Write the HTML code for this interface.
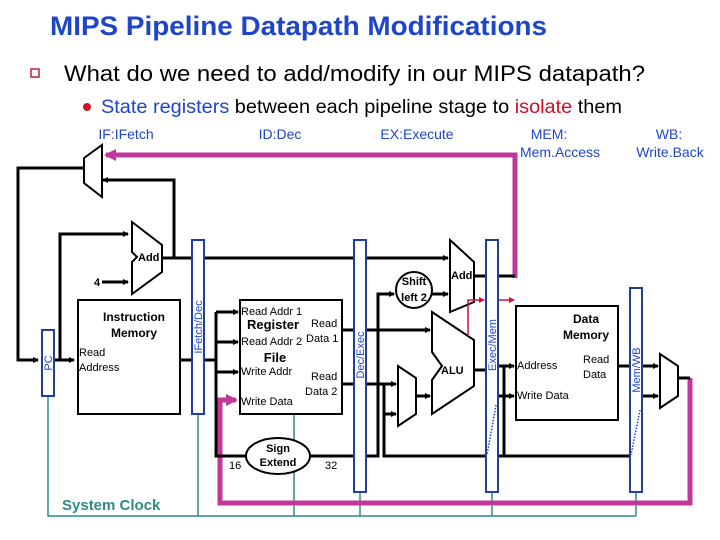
<!DOCTYPE html>
<html><head><meta charset="utf-8"><style>
html,body{margin:0;padding:0;background:#fff}
svg{display:block;font-family:"Liberation Sans",Arial,sans-serif}
</style></head><body>
<svg width="720" height="540" viewBox="0 0 720 540" xmlns="http://www.w3.org/2000/svg">
<defs>
<marker id="ah" markerWidth="6" markerHeight="6" refX="5" refY="3" orient="auto" markerUnits="userSpaceOnUse"><path d="M0,0 L6,3 L0,6 z" fill="#000"/></marker>
<marker id="ar" markerWidth="6" markerHeight="6" refX="5" refY="3" orient="auto" markerUnits="userSpaceOnUse"><path d="M0,0 L6,3 L0,6 z" fill="#d0103a"/></marker>
<marker id="ap" markerWidth="12" markerHeight="12" refX="10" refY="6" orient="auto" markerUnits="userSpaceOnUse"><path d="M0,0 L12,6 L0,12 z" fill="#c0399a"/></marker>
</defs>
<text x="50" y="35" font-size="27" font-weight="bold" fill="#1f45c8" textLength="497" lengthAdjust="spacingAndGlyphs">MIPS Pipeline Datapath Modifications</text>
<rect x="31" y="69" width="8" height="8" fill="none" stroke="#c02030" stroke-width="1.5"/>
<text x="64" y="81" font-size="22" fill="#000" textLength="581" lengthAdjust="spacingAndGlyphs">What do we need to add/modify in our MIPS datapath?</text>
<circle cx="87" cy="107" r="4" fill="#d0102a"/>
<text x="101" y="113" font-size="19" textLength="521" lengthAdjust="spacingAndGlyphs"><tspan fill="#1f45c8">State registers</tspan><tspan fill="#000"> between each pipeline stage to </tspan><tspan fill="#d0102a">isolate</tspan><tspan fill="#000"> them</tspan></text>
<g font-size="14" fill="#1f45c8" text-anchor="middle">
<text x="126" y="139">IF:IFetch</text>
<text x="280" y="139">ID:Dec</text>
<text x="417" y="139">EX:Execute</text>
<text x="549" y="139">MEM:</text><text x="560" y="157">Mem.Access</text>
<text x="669" y="139">WB:</text><text x="670" y="157">Write.Back</text>
</g>
<g stroke="#2e8b86" stroke-width="1.5" fill="none">
<path d="M48,396 V516 H636"/><path d="M198,414 V516"/><path d="M294,414 V516"/><path d="M360,492 V516"/><path d="M492,492 V516"/><path d="M636,492 V516"/>
</g>
<text x="62" y="510" font-size="15" font-weight="bold" fill="#2e8b86">System Clock</text>
<g stroke="#c0399a" stroke-width="5" fill="none">
<path d="M515,278 V155 H106" marker-end="url(#ap)"/>
<path d="M690,378 V503 H220 V400 H236" marker-end="url(#ap)"/>
</g>
<g stroke="#000" stroke-width="3" fill="none">
<path d="M84,158 L102,145 V197 L84,183 Z" stroke-width="2"/>
<path d="M84,168 H18 V360 H38" marker-end="url(#ah)"/>
<path d="M174,258 V180 H103" marker-end="url(#ah)"/>
<path d="M54,360 H74" marker-end="url(#ah)"/>
<path d="M60,360 V234 H128" marker-end="url(#ah)"/>
<path d="M102,282 H128" marker-end="url(#ah)"/>
<path d="M132,222 L162,245 V272 L132,294 V262 L137,257 L132,252 Z" stroke-width="2"/>
<path d="M162,258 H354"/>
<path d="M180,360 H192"/>
<path d="M204,360 H216"/>
<path d="M216,312 V456 H246"/>
<path d="M216,312 H238" marker-end="url(#ah)"/>
<path d="M216,342 H238" marker-end="url(#ah)"/>
<path d="M216,372 H238" marker-end="url(#ah)"/>
<path d="M310,456 H354"/>
<path d="M342,330 H354"/><path d="M342,384 H354"/>
<path d="M366,258 H448" marker-end="url(#ah)"/>
<path d="M366,456 H378 V294 H394" marker-end="url(#ah)"/>
<path d="M432,294 H448" marker-end="url(#ah)"/>
<path d="M366,330 H430" marker-end="url(#ah)"/>
<path d="M366,384 H396" marker-end="url(#ah)"/>
<path d="M384,384 V456 H630"/>
<path d="M384,414 H396" marker-end="url(#ah)"/>
<path d="M416,396 H430" marker-end="url(#ah)"/>
<path d="M450,240 L474,262 V302 L450,312 Z" stroke-width="2"/>
<path d="M474,276 H486"/><path d="M498,276 H515"/>
<path d="M432,312 L474,340 V386 L432,414 V380 L442,366 L432,352 Z" stroke-width="2"/>
<path d="M398,366 L416,378 V414 L398,426 Z" stroke-width="2"/>
<path d="M474,370 H486"/>
<path d="M498,366 H514" marker-end="url(#ah)"/>
<path d="M498,396 H514" marker-end="url(#ah)"/>
<path d="M504,366 V456 H630"/>
<path d="M618,366 H630"/>
<path d="M642,366 H658" marker-end="url(#ah)"/>
<path d="M642,396 H658" marker-end="url(#ah)"/>
<path d="M660,354 L678,366 V396 L660,408 Z" stroke-width="2"/>
<path d="M678,378 H690"/>
</g>
<path d="M468,336 V300 H484" stroke="#d0103a" stroke-width="1.5" fill="none" marker-end="url(#ar)"/>
<path d="M498,300 H514" stroke="#d0103a" stroke-width="1.5" fill="none" marker-end="url(#ar)"/>
<g fill="#fff" stroke="#000" stroke-width="2">
<rect x="78" y="300" width="102" height="114"/>
<rect x="240" y="300" width="102" height="114"/>
<rect x="516" y="306" width="102" height="114"/>
<ellipse cx="278" cy="456" rx="32" ry="18"/>
<circle cx="414" cy="290" r="18"/>
</g>
<g fill="#fff" stroke="#1f3f9a" stroke-width="2">
<rect x="42" y="330" width="12" height="66"/>
<rect x="192" y="240" width="12" height="174"/>
<rect x="354" y="240" width="12" height="252"/>
<rect x="486" y="240" width="12" height="252"/>
<rect x="630" y="288" width="12" height="204"/>
</g>
<g stroke="#1f45c8" stroke-width="1.5" stroke-dasharray="1.5 1.5" fill="none">
<path d="M496,405 L487,455"/><path d="M640,410 L631,455"/>
</g>
<g font-size="11" fill="#1f45c8">
<text transform="translate(52,363) rotate(-90)" text-anchor="middle">PC</text>
<text transform="translate(202,327) rotate(-90)" text-anchor="middle">IFetch/Dec</text>
<text transform="translate(364,355) rotate(-90)" text-anchor="middle">Dec/Exec</text>
<text transform="translate(496,345) rotate(-90)" text-anchor="middle">Exec/Mem</text>
<text transform="translate(640,370) rotate(-90)" text-anchor="middle">Mem/WB</text>
</g>
<g font-size="11" fill="#000">
<text x="94" y="286" font-weight="bold">4</text>
<text x="138" y="261" font-weight="bold">Add</text>
<text x="134" y="321" font-weight="bold" font-size="12" text-anchor="middle">Instruction</text>
<text x="134" y="337" font-weight="bold" font-size="12" text-anchor="middle">Memory</text>
<text x="79" y="356">Read</text><text x="79" y="371">Address</text>
<text x="241" y="315">Read Addr 1</text>
<text x="247" y="329" font-weight="bold" font-size="13">Register</text>
<text x="311" y="327">Read</text>
<text x="241" y="345">Read Addr 2</text>
<text x="306" y="342">Data 1</text>
<text x="275" y="362" font-weight="bold" font-size="13" text-anchor="middle">File</text>
<text x="241" y="375">Write Addr</text>
<text x="311" y="380">Read</text>
<text x="305" y="395">Data 2</text>
<text x="241" y="405">Write Data</text>
<text x="278" y="452" font-weight="bold" text-anchor="middle">Sign</text>
<text x="278" y="466" font-weight="bold" text-anchor="middle">Extend</text>
<text x="229" y="469">16</text>
<text x="325" y="469">32</text>
<text x="414" y="285" font-weight="bold" text-anchor="middle">Shift</text>
<text x="414" y="301" font-weight="bold" text-anchor="middle">left 2</text>
<text x="451" y="279" font-weight="bold">Add</text>
<text x="441" y="374" font-weight="bold">ALU</text>
<text x="586" y="323" font-weight="bold" font-size="12" text-anchor="middle">Data</text>
<text x="586" y="339" font-weight="bold" font-size="12" text-anchor="middle">Memory</text>
<text x="517" y="369">Address</text>
<text x="583" y="363">Read</text><text x="583" y="378">Data</text>
<text x="517" y="399">Write Data</text>
</g>
</svg>
</body></html>
